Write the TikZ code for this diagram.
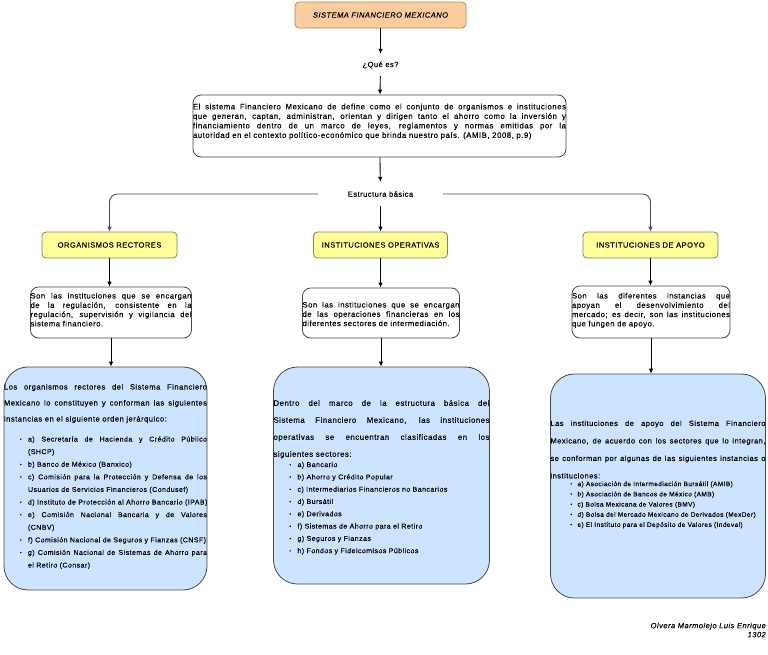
\documentclass[tikz,border=0pt]{standalone}
\usepackage{fontspec}
\setmainfont{Liberation Sans}[LetterSpace=6.5, FakeBold=0.15]
\usetikzlibrary{arrows.meta}
\definecolor{peach}{RGB}{251,205,158}
\definecolor{peachline}{RGB}{170,135,100}
\definecolor{ylw}{RGB}{255,255,153}
\definecolor{ylwline}{RGB}{130,130,100}
\definecolor{lblue}{RGB}{204,228,255}
\definecolor{boxline}{RGB}{70,70,70}
\newcommand\bul[3]{\par\hangindent=#2\hangafter=1\noindent\hspace*{#1}\makebox[\dimexpr#2-#1\relax][l]{\raisebox{0.8pt}{\fontsize{4.5}{4.5}\selectfont\textbullet}}#3}
\newcommand\boxtext[4]{\parbox[c][#2][t]{#1}{\hyphenpenalty=10000\exhyphenpenalty=10000\tolerance=10000\emergencystretch=20pt\vspace*{#3}#4}}
\tikzset{
  arr/.style={draw=black, line width=0.9pt, -{Latex[length=5pt,width=4.5pt]}},
  branch/.style={draw=black!70, line width=0.9pt, rounded corners=8pt, -{Latex[length=5pt,width=4.5pt]}},
  titlebox/.style={draw=peachline, fill=peach, rounded corners=4pt, line width=0.8pt, inner sep=0pt,
    minimum width=171pt, minimum height=26pt, font={\fontsize{7.5}{9}\selectfont\itshape}},
  ybox/.style={draw=ylwline, fill=ylw, rounded corners=4pt, line width=0.8pt, inner sep=0pt,
    minimum height=26pt, font={\fontsize{7.5}{9}\selectfont}},
  wbox/.style={draw=boxline, fill=white, rounded corners=8pt, line width=0.8pt, inner sep=0pt},
  bbox/.style={draw=boxline, fill=lblue, rounded corners=24pt, line width=0.8pt, inner sep=0pt},
  plain/.style={inner sep=0pt, font={\fontsize{7.5}{9}\selectfont}},
}
\begin{document}
\begin{tikzpicture}[x=1pt,y=-1pt]
\useasboundingbox (0,0) rectangle (768,654);
\fill[white] (0,0) rectangle (768,654);

\node[titlebox] (t) at (380.5,15) {SISTEMA FINANCIERO MEXICANO};
\node[plain, minimum height=22pt] (q) at (380.5,65) {¿Qué es?};
\node[wbox] (d) at (379.5,126) {\boxtext{373pt}{62pt}{8.7pt}{\fontsize{7.8}{9.5}\selectfont
El sistema Financiero Mexicano de define como el conjunto de organismos e instituciones\linebreak
que generan, captan, administran, orientan y dirigen tanto el ahorro como la inversión y\linebreak
financiamiento dentro de un marco de leyes, reglamentos y normas emitidas por la\linebreak
autoridad en el contexto político-económico que brinda nuestro país. (AMIB, 2008, p.9)}};
\node[plain, minimum width=125pt, minimum height=24pt] (eb) at (380.5,194) {Estructura básica};

\node[ybox, minimum width=135pt] (y1) at (109.5,245) {ORGANISMOS RECTORES};
\node[ybox, minimum width=134pt] (y2) at (380.5,245) {INSTITUCIONES OPERATIVAS};
\node[ybox, minimum width=135pt] (y3) at (650.5,245) {INSTITUCIONES DE APOYO};

\node[wbox] (s1) at (111,312.5) {\boxtext{161pt}{51pt}{5.9pt}{\fontsize{7.7}{9.3}\selectfont
Son las instituciones que se encargan\linebreak de la regulación, consistente en la\linebreak regulación, supervisión y vigilancia del\linebreak sistema financiero.}};
\node[wbox] (s2) at (381,313) {\boxtext{157pt}{50pt}{13.9pt}{\fontsize{7.7}{9.3}\selectfont
Son las instituciones que se encargan\linebreak de las operaciones financieras en los\linebreak diferentes sectores de intermediación.}};
\node[wbox] (s3) at (651,312) {\boxtext{158pt}{52pt}{6.9pt}{\fontsize{7.7}{9.3}\selectfont
Son las diferentes instancias que\linebreak apoyan el desenvolvimiento del\linebreak mercado; es decir, son las instituciones\linebreak que fungen de apoyo.}};

\node[bbox] (b1) at (105.5,478.5) {\boxtext{203pt}{223pt}{17pt}{\fontsize{7.6}{16}\selectfont
Los organismos rectores del Sistema Financiero\linebreak Mexicano lo constituyen y conforman las siguientes\linebreak instancias en el siguiente orden jerárquico:\par
\vspace{7.4pt}\fontsize{7}{12.6}\selectfont
\bul{16pt}{24pt}{a) Secretaría de Hacienda y Crédito Público\linebreak (SHCP)}
\bul{16pt}{24pt}{b) Banco de México (Banxico)}
\bul{16pt}{24pt}{c) Comisión para la Protección y Defensa de los\linebreak Usuarios de Servicios Financieros (Condusef)}
\bul{16pt}{24pt}{\mbox{d) Instituto de Protección al Ahorro Bancario (IPAB)}}
\bul{16pt}{24pt}{e) Comisión Nacional Bancaria y de Valores\linebreak (CNBV)}
\bul{16pt}{24pt}{f) Comisión Nacional de Seguros y Fianzas (CNSF)}
\bul{16pt}{24pt}{g) Comisión Nacional de Sistemas de Ahorro para\linebreak el Retiro (Consar)}}};

\node[bbox] (b2) at (381.5,475.5) {\boxtext{216pt}{217pt}{33pt}{\fontsize{7.8}{17}\selectfont
Dentro del marco de la estructura básica del\linebreak Sistema Financiero Mexicano, las instituciones\linebreak operativas se encuentran clasificadas en los\linebreak siguientes sectores:\par
\vspace{-2pt}\fontsize{7}{12.3}\selectfont
\bul{16pt}{24pt}{a) Bancario}
\bul{16pt}{24pt}{b) Ahorro y Crédito Popular}
\bul{16pt}{24pt}{c) Intermediarios Financieros no Bancarios}
\bul{16pt}{24pt}{d) Bursátil}
\bul{16pt}{24pt}{e) Derivados}
\bul{16pt}{24pt}{f) Sistemas de Ahorro para el Retiro}
\bul{16pt}{24pt}{g) Seguros y Fianzas}
\bul{16pt}{24pt}{h) Fondos y Fideicomisos Públicos}}};

\node[bbox] (b3) at (658,486) {\boxtext{215pt}{224pt}{46.5pt}{\fontsize{7.5}{17.5}\selectfont
Las instituciones de apoyo del Sistema Financiero\linebreak Mexicano, de acuerdo con los sectores que lo integran,\linebreak se conforman por algunas de las siguientes instancias o\linebreak instituciones:\par
\vspace{-2.5pt}\fontsize{6.5}{10.2}\selectfont
\bul{20pt}{27pt}{a) Asociación de Intermediación Bursátil (AMIB)}
\bul{20pt}{27pt}{b) Asociación de Bancos de México (AMB)}
\bul{20pt}{27pt}{c) Bolsa Mexicana de Valores (BMV)}
\bul{20pt}{27pt}{d) Bolsa del Mercado Mexicano de Derivados (MexDer)}
\bul{20pt}{27pt}{e) El Instituto para el Depósito de Valores (Indeval)}}};

\node[anchor=east, align=right, inner sep=0pt, font={\fontsize{7.5}{9}\selectfont\itshape}] (sig) at (766,630) {Olvera Marmolejo Luis Enrique\\1302};

\draw[arr] (t) -- (q);
\draw[arr] (q) -- (d);
\draw[arr] (d) -- (eb);
\draw[arr] (eb) -- (y2);
\draw[branch] (eb.west) -| (y1.north);
\draw[branch] (eb.east) -| (y3.north);
\draw[arr] (y1.south) -- (y1.south |- s1.north);
\draw[arr] (y2.south) -- (y2.south |- s2.north);
\draw[arr] (y3.south) -- (y3.south |- s3.north);
\draw[arr] (s1.south) -- (s1.south |- b1.north);
\draw[arr] (s2.south) -- (s2.south |- b2.north);
\draw[arr] (s3.south) -- (s3.south |- b3.north);
\end{tikzpicture}
\end{document}
